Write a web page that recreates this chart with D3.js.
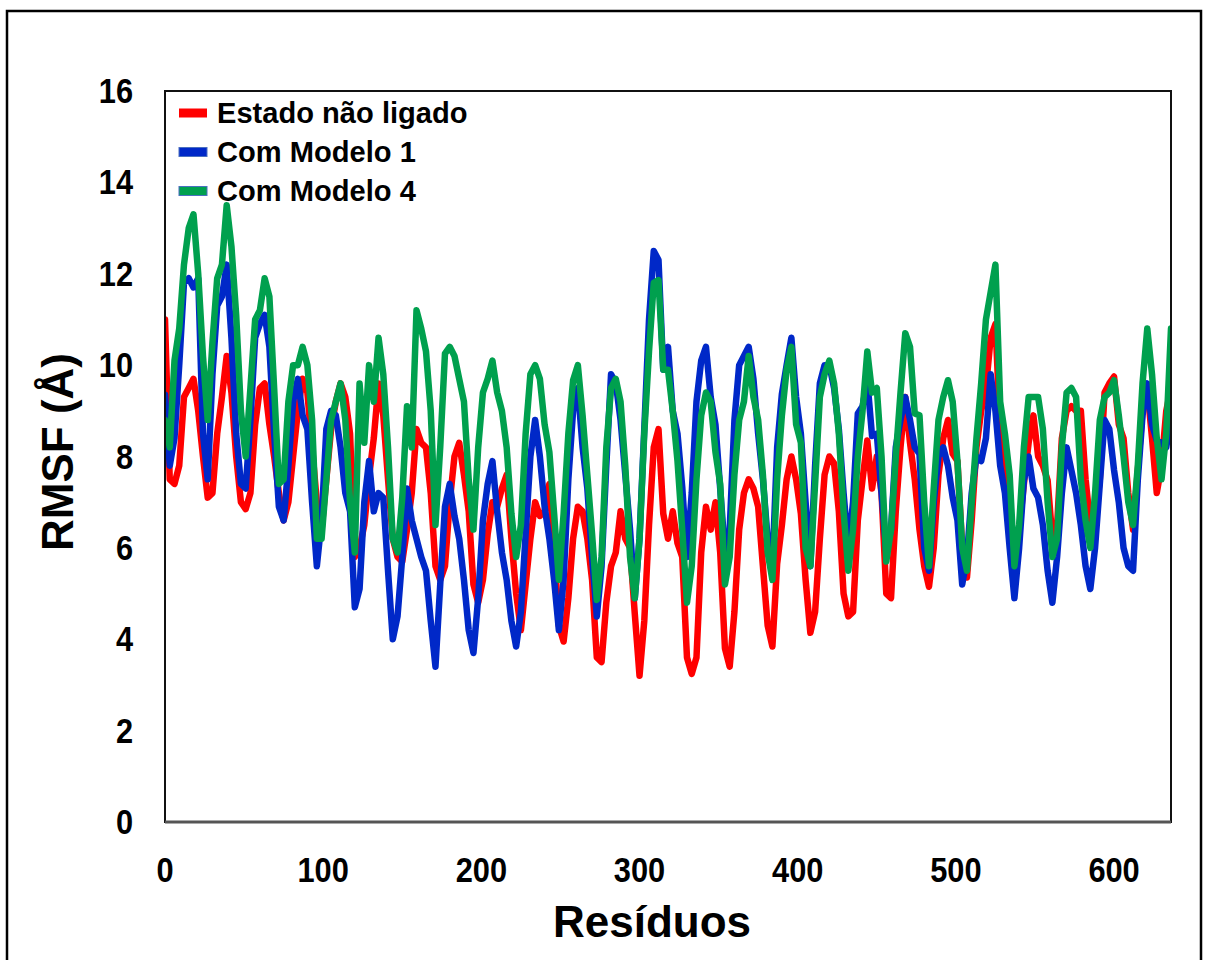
<!DOCTYPE html>
<html>
<head>
<meta charset="utf-8">
<script src="https://cdn.jsdelivr.net/npm/d3@7"></script>
<style>
  html, body { margin: 0; padding: 0; background: #fff; }
  svg { display: block; }
  text { font-family: "Liberation Sans", Arial, sans-serif; font-weight: bold; fill: #000; }
</style>
</head>
<body>
<svg id="chart" width="1206" height="960"></svg>
<script>
// ---- data (residue sampled every 3) ----
const residueStep = 3;
const seriesNames = ["Estado não ligado", "Com Modelo 1", "Com Modelo 4"];
const seriesColors = ["#ff0000", "#0028c8", "#00a04e"];
const xTicks = [0, 100, 200, 300, 400, 500, 600];
const yTicks = [0, 2, 4, 6, 8, 10, 12, 14, 16];

const redValues = [
11.0,7.5,7.4,7.8,9.3,9.5,9.7,9.0,8.0,7.1,7.2,8.5,9.3,10.2,9.4,8.0,7.0,6.85,7.2,8.7,
9.5,9.6,8.7,8.0,7.2,6.6,7.0,8.0,9.0,9.7,9.4,8.2,7.0,6.4,7.5,8.6,9.2,9.6,9.3,8.5,
5.8,6.0,6.5,7.55,8.4,9.6,8.9,7.5,6.2,5.8,5.7,6.4,7.2,8.6,8.3,8.2,7.2,5.6,5.3,5.6,
7.0,8.0,8.3,7.6,6.8,5.2,4.8,5.3,6.3,7.0,6.9,7.3,7.6,6.2,5.0,4.2,5.2,6.2,7.0,6.7,
6.8,7.4,6.0,4.3,3.95,4.9,6.2,6.9,6.8,6.2,5.3,3.6,3.5,4.8,5.6,5.9,6.8,6.2,6.0,4.56,
3.2,4.4,6.5,8.2,8.6,6.75,6.2,6.8,6.1,5.8,3.6,3.24,3.6,5.9,6.9,6.4,7.0,5.9,3.8,3.4,
4.6,6.4,7.2,7.5,7.3,6.9,5.6,4.3,3.84,5.65,6.5,7.5,8.0,7.5,6.75,5.3,4.14,4.6,6.2,7.6,
8.0,7.85,6.8,5.0,4.5,4.6,6.6,7.5,8.35,7.3,8.0,7.2,5.0,4.9,6.8,8.2,9.3,8.3,7.5,6.4,
5.6,5.15,6.0,7.6,8.4,8.8,8.06,7.9,6.0,5.35,6.6,8.2,9.0,9.5,10.6,10.9,8.6,7.9,7.0,5.5,
6.4,7.4,8.3,8.9,8.0,7.8,7.48,6.2,6.5,8.4,9.0,9.1,9.0,9.0,7.5,6.5,6.6,7.5,9.4,9.6,
9.75,8.7,8.4,7.2,6.4,7.7,9.0,9.5,8.4,7.2,7.8,9.0,9.5
];

const blueValues = [
9.35,7.8,8.4,10.0,11.8,11.9,11.7,11.9,8.5,7.5,9.8,11.3,11.5,12.2,10.6,8.5,7.4,7.3,8.8,10.6,
10.9,11.1,10.4,8.5,6.9,6.6,7.8,9.2,9.7,8.9,8.6,7.0,5.6,6.6,8.6,9.0,8.9,8.2,7.2,6.8,
4.7,5.1,7.0,7.9,6.8,7.2,7.1,5.5,4.0,4.5,5.8,7.3,6.6,6.2,5.8,5.5,4.4,3.4,5.2,6.9,
7.4,6.7,6.2,5.3,4.2,3.7,4.9,6.6,7.4,7.9,6.8,5.9,5.3,4.4,3.84,4.6,6.3,8.0,8.8,8.0,
6.9,6.2,5.3,4.2,5.3,7.5,9.0,9.5,8.2,7.3,5.8,4.5,5.6,7.8,9.8,9.6,8.8,7.6,6.4,4.9,
6.2,8.6,11.0,12.5,12.3,9.9,10.4,9.0,8.5,7.33,5.8,7.2,9.2,10.1,10.4,9.3,8.7,7.3,5.9,6.4,
8.8,10.0,10.2,10.4,9.7,8.5,7.5,6.2,5.6,8.2,9.37,10.0,10.6,9.3,8.5,7.0,5.6,7.8,9.6,10.0,
10.0,9.5,8.6,7.2,6.0,7.0,8.94,9.1,9.67,8.45,8.5,7.2,5.9,6.4,8.2,8.8,9.3,8.8,8.2,8.06,
6.0,5.5,7.0,8.0,8.2,7.8,7.1,6.6,5.2,5.8,7.2,8.0,7.9,8.4,9.8,9.0,7.8,7.2,6.0,4.9,
6.0,7.48,8.0,7.3,7.1,6.5,5.5,4.8,5.8,7.2,8.2,7.7,7.2,6.5,5.6,5.1,6.0,7.4,8.8,8.6,
7.7,7.0,6.0,5.6,5.5,7.48,8.9,9.6,8.7,8.35,8.3,8.2,8.9
];

const greenValues = [
8.8,8.2,10.1,10.8,12.2,13.0,13.3,12.0,10.2,8.8,10.5,11.9,12.2,13.5,12.6,11.1,9.0,8.0,9.5,11.0,
11.2,11.9,11.5,9.5,7.4,7.5,9.2,10.0,10.0,10.4,10.0,8.8,6.2,6.2,7.5,8.8,9.2,9.6,8.8,7.0,
5.9,9.6,8.3,10.0,9.2,10.6,9.8,8.2,6.2,5.9,7.1,9.1,8.2,11.2,10.8,10.3,9.0,6.5,8.2,10.25,
10.4,10.2,9.7,9.2,7.5,6.4,8.2,9.4,9.7,10.1,9.4,9.0,8.2,6.75,5.8,6.5,8.5,9.8,10.0,9.7,
8.7,8.1,6.75,5.3,6.75,8.5,9.67,10.0,8.9,7.6,6.3,4.86,5.8,8.2,9.5,9.7,9.2,7.8,5.8,4.9,
6.2,8.5,10.3,11.8,11.86,9.9,9.9,9.0,7.9,6.4,4.8,5.6,7.5,8.9,9.4,9.2,8.1,7.4,5.2,5.8,
7.6,8.8,9.2,10.2,9.3,8.8,7.6,5.9,5.3,7.5,8.9,9.9,10.4,8.7,8.3,6.0,5.6,7.4,9.3,9.8,
10.1,9.6,8.5,6.8,5.5,6.4,8.0,9.0,10.3,9.4,9.5,8.0,5.7,6.4,8.0,9.4,10.7,10.4,8.94,8.9,
7.0,5.6,7.3,8.8,9.3,9.67,9.2,7.9,6.0,5.5,7.0,8.4,9.6,11.0,11.6,12.2,9.2,8.5,7.6,5.6,
6.5,8.2,9.3,9.3,9.3,8.6,7.0,5.8,6.2,8.2,9.4,9.5,9.3,7.5,6.6,6.0,7.2,8.8,9.3,9.4,
9.67,8.9,8.0,7.0,6.5,7.8,9.6,10.8,9.8,8.4,7.5,8.5,10.8
];

// ---- layout ----
const svg = d3.select("#chart");
const plot = { left: 165, top: 91, right: 1171, bottom: 822 };

const x = d3.scaleLinear().domain([0, 636]).range([plot.left, plot.right]);
const y = d3.scaleLinear().domain([0, 16]).range([plot.bottom, plot.top]);

// outer frame
svg.append("rect")
  .attr("x", 7).attr("y", 11).attr("width", 1194).attr("height", 980)
  .attr("fill", "none").attr("stroke", "#000").attr("stroke-width", 2.5);

// clip
svg.append("defs").append("clipPath").attr("id", "clip")
  .append("rect").attr("x", plot.left).attr("y", plot.top)
  .attr("width", plot.right - plot.left).attr("height", plot.bottom - plot.top);

// lines
const all = [redValues, blueValues, greenValues];
const line = d3.line()
  .x((d, i) => x(i * residueStep))
  .y(d => y(d))
  .curve(d3.curveLinear);

const g = svg.append("g").attr("clip-path", "url(#clip)");
all.forEach((vals, k) => {
  g.append("path")
    .datum(vals)
    .attr("d", line)
    .attr("fill", "none")
    .attr("stroke", seriesColors[k])
    .attr("stroke-width", 6.5)
    .attr("stroke-linejoin", "round")
    .attr("stroke-linecap", "round");
});

// plot border
svg.append("rect")
  .attr("x", plot.left).attr("y", plot.top)
  .attr("width", plot.right - plot.left).attr("height", plot.bottom - plot.top)
  .attr("fill", "none").attr("stroke", "#111").attr("stroke-width", 2);
svg.append("line")
  .attr("x1", plot.left).attr("x2", plot.right)
  .attr("y1", plot.bottom).attr("y2", plot.bottom)
  .attr("stroke", "#555").attr("stroke-width", 3);

// y tick labels
yTicks.forEach(v => {
  svg.append("text")
    .attr("transform", `translate(133,${y(v) + 12}) scale(0.88,1)`)
    .attr("text-anchor", "end")
    .style("font-size", "35px")
    .text(v);
});

// x tick labels
xTicks.forEach(v => {
  svg.append("text")
    .attr("transform", `translate(${x(v)},882) scale(0.88,1)`)
    .attr("text-anchor", "middle")
    .style("font-size", "35px")
    .text(v);
});

// axis titles
svg.append("text")
  .attr("transform", "translate(73,551) rotate(-90)")
  .attr("text-anchor", "start")
  .style("font-size", "44px")
  .text("RMSF (Å)");

svg.append("text")
  .attr("x", 652).attr("y", 937)
  .attr("text-anchor", "middle")
  .style("font-size", "44px")
  .text("Resíduos");

// legend
const legend = svg.append("g");
seriesNames.forEach((name, k) => {
  const cy = 113 + k * 39;
  legend.append("rect")
    .attr("x", 179).attr("y", cy - 4.5)
    .attr("width", 28).attr("height", 9)
    .attr("fill", seriesColors[k])
    .attr("stroke", k === 0 ? "none" : "#4a6fc0")
    .attr("stroke-width", 1);
  legend.append("text")
    .attr("transform", `translate(217,${cy + 10}) scale(0.97,1)`)
    .style("font-size", "30px")
    .text(name);
});
</script>
</body>
</html>
